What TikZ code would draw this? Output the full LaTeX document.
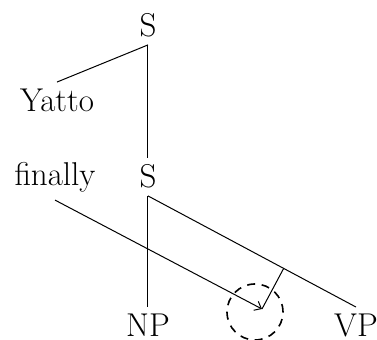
\documentclass[tikz,border=0pt]{standalone}
\usetikzlibrary{arrows.meta, calc}
\begin{document}
\begin{tikzpicture}[x=0.5pt, y=-0.5pt, >={Straight Barb[length=3pt, width=5pt]},
    lbl/.style={anchor=base, inner sep=3.5pt, font=\fontsize{16.5}{19}\selectfont},
    edge/.style={line width=0.5pt}]
    \useasboundingbox (0,0) rectangle (377,340);

    % upper clause
    \node[lbl] (s1) at (148,37) {S};
    \node[lbl] (yatto) at (57,112) {Yatto};

    % lower clause
    \node[lbl] (s2) at (148,188) {S};
    \node[lbl] (finally) at (55,186) {finally};
    \node[lbl] (np) at (148,337) {NP};
    \node[lbl] (vp) at (356,337) {VP};

    % empty slot under the VP
    \coordinate (gap) at (262,309);
    \node[draw, circle, line width=0.8pt, dash pattern=on 4pt off 3.3pt,
          minimum size=28pt, inner sep=0pt] (slot) at (255,312) {};

    \draw[edge] (s1.south) -- (yatto.north);
    \draw[edge] (s1.south) -- (s2.north);
    \draw[edge] (s2.south) -- (np.north);
    \draw[edge] (s2.south) -- (vp.north);

    \draw[edge, ->] (finally.south) -- (gap);
    \draw[edge] (gap) -- ($(s2.south)!(gap)!(vp.north)$);
\end{tikzpicture}
\end{document}
